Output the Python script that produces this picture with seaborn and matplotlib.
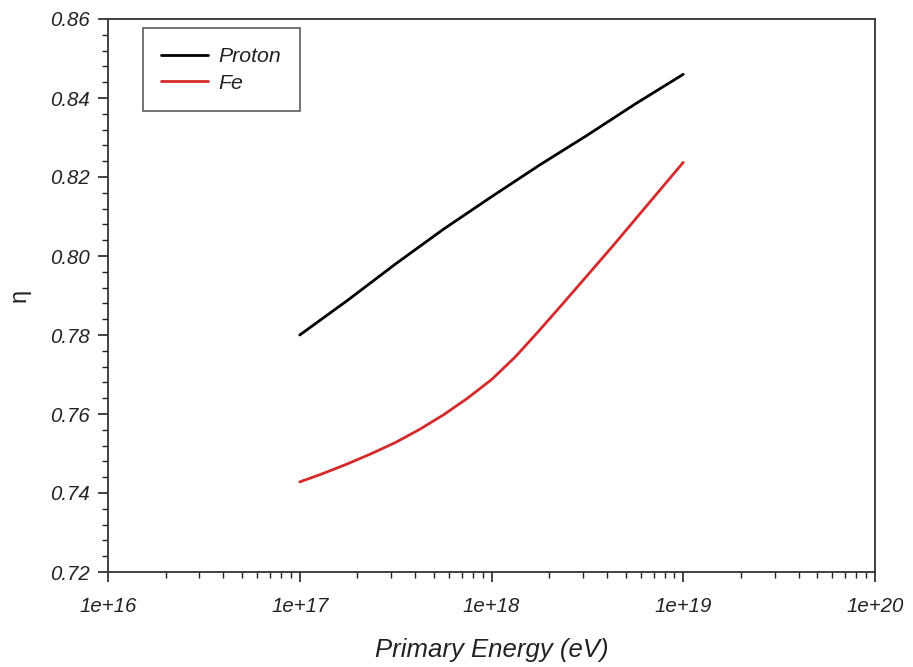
import numpy as np
import pandas as pd
import matplotlib
matplotlib.use("Agg")
import matplotlib.pyplot as plt
from matplotlib.ticker import LogLocator, MultipleLocator, FuncFormatter
import seaborn as sns

# log10 of primary energy (eV) and the efficiency eta for each primary
log_energy_proton = [17.0, 17.25, 17.5, 17.75, 18.0, 18.25, 18.5, 18.75, 19.0]
eta_proton = [0.7800, 0.7888, 0.7980, 0.8068, 0.8150, 0.8230, 0.8306, 0.8385, 0.8460]

log_energy_fe = [17.0, 17.125, 17.25, 17.375, 17.5, 17.625, 17.75, 17.875, 18.0,
                 18.125, 18.25, 18.375, 18.5, 18.625, 18.75, 18.875, 19.0]
eta_fe = [0.7428, 0.7450, 0.7474, 0.7500, 0.7528, 0.7561, 0.7598, 0.7640, 0.7687,
          0.7745, 0.7812, 0.7881, 0.7951, 0.8021, 0.8093, 0.8165, 0.8237]

series_names = ["Proton", "Fe"]
series_colors = ["#000000", "#d42a2a"]
x_tick_labels = ["1e+16", "1e+17", "1e+18", "1e+19", "1e+20"]

df = pd.concat([
    pd.DataFrame({"E": [10 ** v for v in log_energy_proton], "eta": eta_proton,
                  "primary": series_names[0]}),
    pd.DataFrame({"E": [10 ** v for v in log_energy_fe], "eta": eta_fe,
                  "primary": series_names[1]}),
])

sns.set_theme(style="ticks")
plt.rcParams["font.family"] = ["Liberation Sans", "DejaVu Sans"]

fig = plt.figure(figsize=(9.13, 6.67), dpi=100)
ax = fig.add_axes([108 / 913, 1 - 572 / 667, (875 - 108) / 913, (572 - 19) / 667])

sns.lineplot(data=df, x="E", y="eta", hue="primary", hue_order=series_names,
             palette=series_colors, linewidth=2.0, ax=ax, sort=True,
             estimator=None)

ax.set_xscale("log")
ax.set_xlim(1e16, 1e20)
ax.set_ylim(0.72, 0.86)

ax.xaxis.set_major_locator(LogLocator(base=10, numticks=10))
ax.xaxis.set_minor_locator(LogLocator(base=10, subs=np.arange(2, 10), numticks=50))
ax.xaxis.set_major_formatter(FuncFormatter(
    lambda v, p: x_tick_labels[int(round(np.log10(v))) - 16]
    if 16 <= round(np.log10(v)) <= 20 else ""))
ax.yaxis.set_major_locator(MultipleLocator(0.02))
ax.yaxis.set_minor_locator(MultipleLocator(0.004))
ax.yaxis.set_major_formatter(FuncFormatter(lambda v, p: f"{v:.2f}"))

ax.tick_params(which="major", direction="out", length=7, width=1.2,
               color="#222222", labelsize=14.7)
ax.tick_params(axis="x", which="major", pad=11)
ax.tick_params(axis="y", which="major", pad=6)
ax.tick_params(which="minor", direction="out", length=4, width=1.0,
               color="#222222")
ax.tick_params(top=False, right=False, which="both")
for lab in ax.get_xticklabels() + ax.get_yticklabels():
    lab.set_fontstyle("italic")
    lab.set_color("#222222")

for s in ax.spines.values():
    s.set_visible(True)
    s.set_linewidth(1.3)
    s.set_color("#333333")

ax.set_xlabel("Primary Energy (eV)", fontsize=18.5, fontstyle="italic",
              color="#222222", labelpad=16)
ax.set_ylabel("η", fontsize=17, color="#222222", labelpad=14)

leg = ax.legend(loc="upper left", bbox_to_anchor=(0.045, 0.983), frameon=True,
                fancybox=False, edgecolor="#333333", fontsize=15.3,
                handlelength=2.2, borderpad=0.88, labelspacing=0.35,
                handletextpad=0.5, borderaxespad=0)
leg.get_frame().set_linewidth(1.2)
for t in leg.get_texts():
    t.set_fontstyle("italic")
    t.set_color("#222222")
for h in leg.get_lines():
    h.set_linewidth(2.0)

fig.savefig("out.png", dpi=100)
